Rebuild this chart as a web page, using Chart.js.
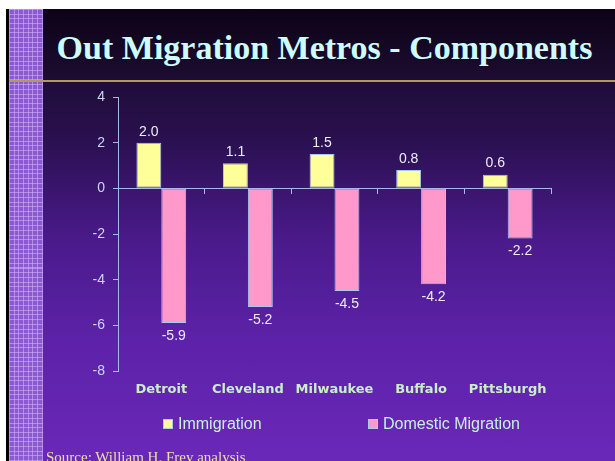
<!DOCTYPE html>
<html>
<head>
<meta charset="utf-8">
<script src="https://cdn.jsdelivr.net/npm/chart.js@4"></script>
<style>
  html, body { margin: 0; padding: 0; background: #fff; }
  #wrap { position: relative; width: 615px; height: 461px; overflow: hidden; }
  #frame { position: absolute; left: 6px; top: 9px; right: 0; bottom: 0;
    border-left: 3px solid #000;
    background: linear-gradient(to bottom, #0c0316 0px, #1b0b2e 62px, #200d3a 76px, #2a1050 130px, #4a1a8a 230px, #5c22a8 330px, #6a28b8 452px); }
  #strip { position: absolute; left: 0; top: 0; width: 34px; bottom: 0;
    background-color: #8c5ace;
    background-image:
      repeating-linear-gradient(to right, rgba(205,175,255,0.6) 0px, rgba(205,175,255,0.6) 1px, transparent 1px, transparent 4.7px),
      repeating-linear-gradient(to bottom, rgba(205,175,255,0.6) 0px, rgba(205,175,255,0.6) 1px, transparent 1px, transparent 4.7px); }
  #gold { position: absolute; left: 0; right: 0; top: 71px; height: 2px; background: #b09a5c; }
  #title { position: absolute; left: 0; width: 615px; top: 31px; text-align: center; padding-left: 34px; box-sizing: border-box;
    font: bold 34px "Liberation Serif", serif; color: #ccfcfc; white-space: nowrap; line-height: 34px; }
  canvas { position: absolute; left: 0; top: 0; }
  .leg { position: absolute; top: 414px; font: 16px "Liberation Sans", sans-serif; color: #c8f0e0; line-height: 20px; white-space: nowrap; }
  .leg i { display: inline-block; width: 8px; height: 8px; border: 1px solid #b0c8f0; vertical-align: 0px; margin-right: 5px; }
  #source { position: absolute; left: 46px; top: 449px; font: 15px "Liberation Serif", serif; color: #e8e0a8; white-space: nowrap; }
</style>
</head>
<body>
<div id="wrap">
  <div id="frame">
    <div id="strip"></div>
    <div id="gold"></div>
  </div>
  <div id="title">Out Migration Metros - Components</div>
  <canvas id="chart" width="615" height="461"></canvas>
  <div class="leg" style="left:163px"><i style="background:#ffff99"></i>Immigration</div>
  <div class="leg" style="left:368px"><i style="background:#ff99cc"></i>Domestic Migration</div>
  <div id="source">Source: William H. Frey analysis</div>
</div>
<script>
const metros = ['Detroit', 'Cleveland', 'Milwaukee', 'Buffalo', 'Pittsburgh'];
const immigration = [2.0, 1.1, 1.5, 0.8, 0.6];
const domesticMigration = [-5.9, -5.2, -4.5, -4.2, -2.2];
const yTicks = [4, 2, 0, -2, -4, -6, -8];

const axisColor = '#a8b8e8';

// value labels above / below each bar
const valueLabels = {
  id: 'valueLabels',
  afterDatasetsDraw(chart) {
    const ctx = chart.ctx;
    ctx.save();
    ctx.font = '14px "Liberation Sans", sans-serif';
    ctx.fillStyle = '#ececfa';
    ctx.textAlign = 'center';
    chart.data.datasets.forEach((ds, i) => {
      chart.getDatasetMeta(i).data.forEach((bar, j) => {
        const v = ds.data[j];
        if (v >= 0) {
          ctx.textBaseline = 'bottom';
          ctx.fillText(v.toFixed(1), bar.x, bar.y - 4);
        } else {
          ctx.textBaseline = 'top';
          ctx.fillText(v.toFixed(1), bar.x, bar.y + 6);
        }
      });
    });
    ctx.restore();
  }
};

new Chart(document.getElementById('chart'), {
  type: 'bar',
  data: {
    labels: metros,
    datasets: [
      { label: 'Immigration', data: immigration, backgroundColor: '#ffff99' },
      { label: 'Domestic Migration', data: domesticMigration, backgroundColor: '#ff99cc' }
    ]
  },
  options: {
    responsive: false,
    animation: false,
    layout: { padding: { left: 60, right: 64, top: 97, bottom: 50 } },
    datasets: {
      bar: {
        categoryPercentage: 0.575,
        barPercentage: 1,
        borderColor: '#a8c8ec',
        borderWidth: 1,
        borderSkipped: false
      }
    },
    plugins: {
      legend: { display: false },
      tooltip: { enabled: false }
    },
    scales: {
      x: {
        position: { y: 0 },
        grid: { drawOnChartArea: false, color: axisColor, tickLength: 5 },
        border: { color: axisColor },
        ticks: { display: false }
      },
      xl: {
        type: 'category',
        position: 'bottom',
        grid: { display: false },
        border: { display: false },
        ticks: { color: '#c8f0c8', font: { family: 'DejaVu Sans', size: 13, weight: 'bold' }, padding: 3 },
        afterFit(scale) { scale.height = 40; }
      },
      y: {
        min: -8,
        max: 4,
        afterBuildTicks(scale) { scale.ticks = yTicks.map(v => ({ value: v })); },
        grid: { drawOnChartArea: false, color: axisColor, tickLength: 5 },
        border: { color: axisColor },
        ticks: { color: '#c8d8f0', font: { family: 'Liberation Sans', size: 14 }, padding: 8 },
        afterFit(scale) { scale.width = 58; }
      }
    }
  },
  plugins: [valueLabels]
});
</script>
</body>
</html>
